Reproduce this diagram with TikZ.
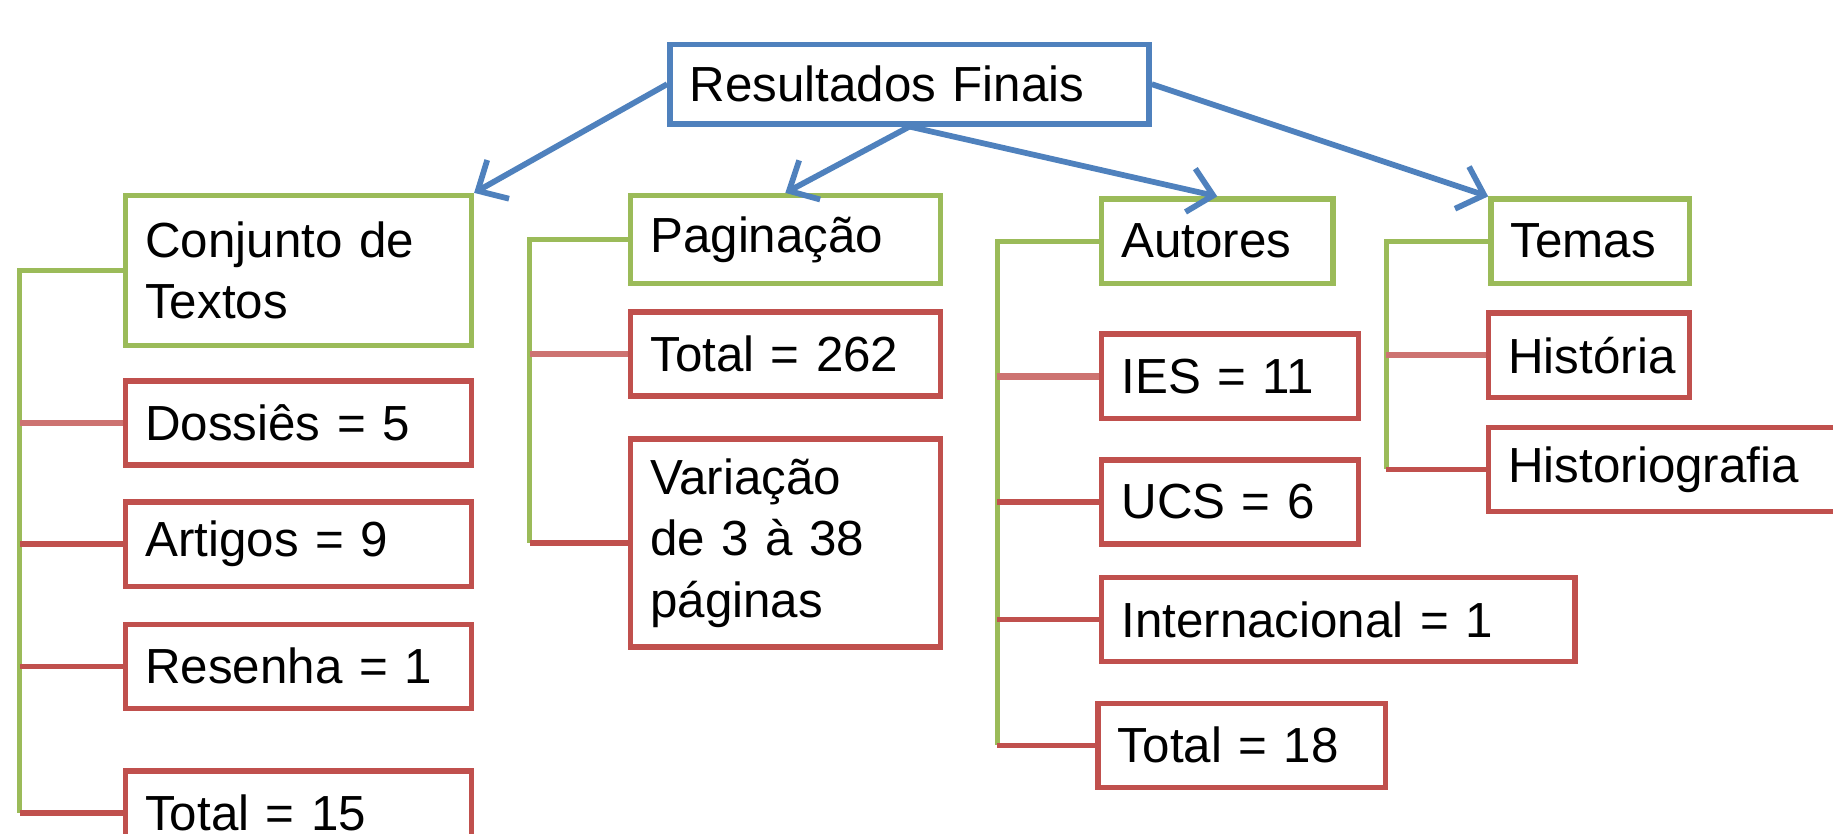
\documentclass[tikz,border=0pt]{standalone}
\usepackage{fontspec}
\setmainfont{Liberation Sans}
\usepackage{tikz}
\usetikzlibrary{arrows.meta, positioning}
\definecolor{azul}{HTML}{4F81BD}
\definecolor{verde}{HTML}{9BBB59}
\definecolor{vermelho}{HTML}{C0504D}

\begin{document}
\begin{tikzpicture} [caixa/.style ={draw, line width=1.3pt, anchor=north west, inner xsep=0.17cm, inner ysep=0pt, align=left, minimum height=0.72cm, font=\fontsize{12}{15}\selectfont}, raiz/.style ={caixa, draw=azul, anchor=center}, grupo/.style ={caixa, draw=verde}, item/.style ={caixa, draw=vermelho}, seta/.style ={azul, line width=1.4pt, -{Straight Barb[length=2mm, width=3.8mm]}}, ramo/.style ={verde, line width=1.2pt}, haste/.style ={vermelho, line width=1.3pt}, haste1/.style ={vermelho!80, line width=1.6pt}]
	\useasboundingbox (0,0) rectangle (15.68,-7.13);
	\clip (0,0) rectangle (15.68,-7.13);
	\node[raiz, text width=3.76cm, minimum height=0.68cm] (raiz) at (7.78,-0.72) {Resultados Finais};
	\node[grupo, text width=2.62cm, minimum height=1.28cm] (conjunto) at (1.05,-1.65) {Conjunto de\\Textos};
	\node[item, text width=2.62cm] (dossies) [below right=0.26cm and 0cm of conjunto.south west] {Dossiês = 5};
	\node[item, text width=2.62cm] (artigos) [below right=0.27cm and 0cm of dossies.south west] {Artigos = 9};
	\node[item, text width=2.62cm] (resenha) [below right=0.28cm and 0cm of artigos.south west] {Resenha = 1};
	\node[item, text width=2.62cm] (total15) [below right=0.49cm and 0cm of resenha.south west] {Total = 15};
	\node[grupo, text width=2.31cm, minimum height=0.75cm] (paginacao) at (5.37,-1.65) {Paginação};
	\node[item, text width=2.31cm] (total262) [below right=0.20cm and 0cm of paginacao.south west] {Total = 262};
	\node[item, text width=2.31cm, minimum height=1.78cm] (variacao) [below right=0.32cm and 0cm of total262.south west] {Variação\\de 3 à 38\\páginas};
	\node[grupo, text width=1.64cm] (autores) at (9.40,-1.68) {Autores};
	\node[item, text width=1.86cm] (ies) [below right=0.39cm and 0cm of autores.south west] {IES = 11};
	\node[item, text width=1.86cm] (ucs) [below right=0.31cm and 0cm of ies.south west] {UCS = 6};
	\node[item, text width=3.71cm] (internacional) [below right=0.24cm and 0cm of ucs.south west] {Internacional = 1};
	\node[item, text width=2.12cm] (total18) [below right=0.31cm and -0.03cm of internacional.south west] {Total = 18};
	\node[grupo, text width=1.36cm] (temas) at (12.73,-1.68) {Temas};
	\node[item, text width=1.38cm] (historia) [below right=0.21cm and -0.02cm of temas.south west] {História};
	\node[item, text width=2.86cm] (historiografia) [below right=0.21cm and 0cm of historia.south west] {Historiografia};
	\draw[ramo] (conjunto.west) -- ++(-0.88,0) coordinate (eixo1) -- (eixo1 |- total15.west);
	\draw[haste1] (eixo1 |- dossies.west) -- (dossies.west);
	\draw[haste] (eixo1 |- artigos.west) -- (artigos.west);
	\draw[haste] (eixo1 |- resenha.west) -- (resenha.west);
	\draw[haste] (eixo1 |- total15.west) -- (total15.west);
	\draw[ramo] (paginacao.west) -- ++(-0.84,0) coordinate (eixo2) -- (eixo2 |- variacao.west);
	\draw[haste1] (eixo2 |- total262.west) -- (total262.west);
	\draw[haste] (eixo2 |- variacao.west) -- (variacao.west);
	\draw[ramo] (autores.west) -- ++(-0.87,0) coordinate (eixo3) -- (eixo3 |- total18.west);
	\draw[haste1] (eixo3 |- ies.west) -- (ies.west);
	\draw[haste] (eixo3 |- ucs.west) -- (ucs.west);
	\draw[haste] (eixo3 |- internacional.west) -- (internacional.west);
	\draw[haste] (eixo3 |- total18.west) -- (total18.west);
	\draw[ramo] (temas.west) -- ++(-0.87,0) coordinate (eixo4) -- (eixo4 |- historiografia.west);
	\draw[haste1] (eixo4 |- historia.west) -- (historia.west);
	\draw[haste] (eixo4 |- historiografia.west) -- (historiografia.west);
	\path (raiz.west) edge[seta] (conjunto.north east);
	\path (raiz.south) edge[seta] (paginacao.north);
	\path (raiz.south) edge[seta] (autores.north);
	\path (raiz.east) edge[seta] (temas.north west);
\end{tikzpicture}
\end{document}
